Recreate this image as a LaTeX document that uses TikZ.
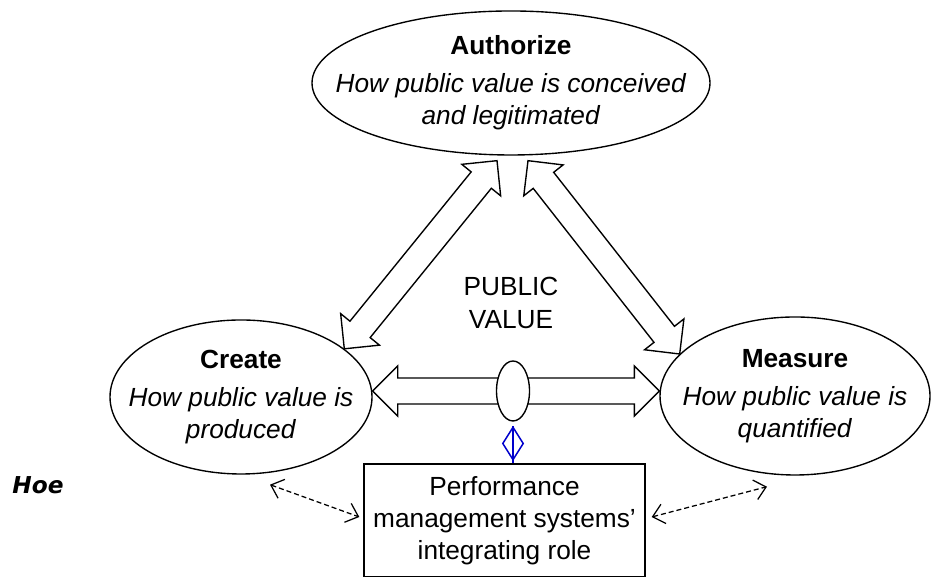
\documentclass[tikz,border=0pt]{standalone}
\usepackage{fontspec}
\setmainfont{Liberation Sans}
\newfontfamily\hoefont{DejaVu Sans}
\usepackage{tikz}
\usetikzlibrary{shapes.geometric,arrows.meta,positioning,calc}

\newcommand{\headlen}{10pt}
\newcommand{\headwid}{10pt}
\newcommand{\shaftwid}{5.2pt}

\begin{document}
\begin{tikzpicture}[
    x=0.4pt, y=0.4pt,
    font=\fontsize{10.5}{12.8}\selectfont,
    stage/.style={ellipse, draw, line width=0.55pt, inner xsep=-20pt, inner ysep=-4pt, align=center},
    role/.style={rectangle, draw, line width=0.55pt, minimum width=112.4pt, minimum height=45.2pt, inner sep=0pt, align=center},
    hubnode/.style={ellipse, draw, line width=0.55pt, fill=white, minimum width=13.2pt, minimum height=24pt, inner sep=0pt},
    joint/.style={diamond, draw=blue!80!black, line width=0.6pt, minimum width=8.4pt, minimum height=13.2pt, inner sep=0pt},
    dlink/.style={<->, >={Straight Barb[length=4.5pt,width=8pt]}, dash pattern=on 2pt off 1.2pt, line width=0.5pt},
    blockarrow/.style={draw, line width=0.55pt, fill=white, line join=miter, to path={
        -- ($(\tikztostart)!\headlen!(\tikztotarget)!\headwid!90:(\tikztotarget)$)
        -- ($(\tikztostart)!\headlen!(\tikztotarget)!\shaftwid!90:(\tikztotarget)$)
        -- ($(\tikztotarget)!\headlen!(\tikztostart)!\shaftwid!-90:(\tikztostart)$)
        -- ($(\tikztotarget)!\headlen!(\tikztostart)!\headwid!-90:(\tikztostart)$)
        -- (\tikztotarget)
        -- ($(\tikztotarget)!\headlen!(\tikztostart)!\headwid!90:(\tikztostart)$)
        -- ($(\tikztotarget)!\headlen!(\tikztostart)!\shaftwid!90:(\tikztostart)$)
        -- ($(\tikztostart)!\headlen!(\tikztotarget)!\shaftwid!-90:(\tikztotarget)$)
        -- ($(\tikztostart)!\headlen!(\tikztotarget)!\headwid!-90:(\tikztotarget)$)
        -- cycle}}
]
    \useasboundingbox (0,0) rectangle (932,577);

    % Three stages
    \node[stage, minimum width=159.2pt, minimum height=57.6pt] (auth) at (511,494)
        {\textbf{Authorize}\\[2.4pt]\textit{How public value is conceived}\\\textit{and legitimated}};
    \node[stage, minimum width=104.8pt, minimum height=61.6pt] (create) at (241,180)
        {\textbf{Create}\\[2.4pt]\textit{How public value is}\\\textit{produced}};
    \node[stage, minimum width=108pt, minimum height=63.2pt] (measure) at (795,181)
        {\textbf{Measure}\\[2.4pt]\textit{How public value is}\\\textit{quantified}};

    % Centre
    \node[align=center, font=\fontsize{10.5}{13.2}\selectfont] (pv) at (511,274) {PUBLIC\\VALUE};
    \coordinate (mid) at (513,186);

    % Block arrows
    \draw[blockarrow] (create.25) to ($(auth.south)+(-14,-5)$);
    \draw[blockarrow] ($(auth.south)+(17,-5)$) to (measure.160);
    \draw[blockarrow] (create.east |- mid) to (measure.west |- mid);

    \node[hubnode] (hub) at (mid) {};

    % Performance management
    \node[role] (pms) at (504.5,56.5) {Performance\\management systems'\\integrating role};
    \node[joint] (link) at (513,133.5) {};
    \draw[blue!80!black, line width=0.6pt] (pms.north -| link) -- (link.north);

    \draw[dlink] ($(create.south)+(29,-10)$) -- ($(pms.west)+(-4,3.5)$);
    \draw[dlink] ($(pms.east)+(6,3.5)$) -- ($(measure.south)+(-28,-11)$);

    \node[anchor=west, inner sep=0pt, font=\hoefont\fontsize{9.3}{11}\selectfont\bfseries\itshape] (hoe) at (12,92) {Hoe};
\end{tikzpicture}
\end{document}
